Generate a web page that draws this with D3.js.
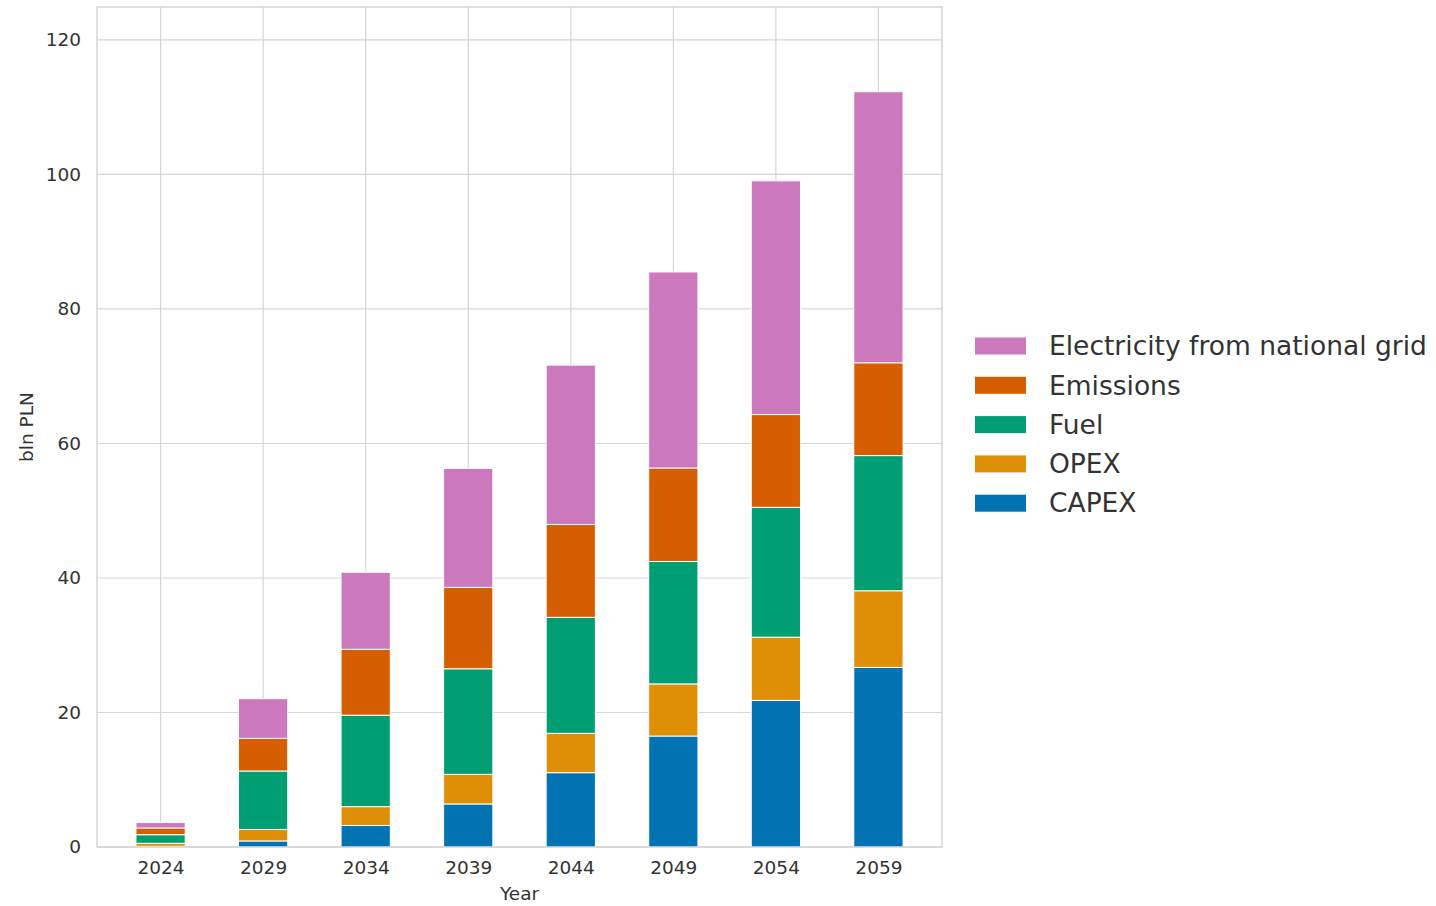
<!DOCTYPE html>
<html>
<head>
<meta charset="utf-8">
<script src="https://cdn.jsdelivr.net/npm/d3@7"></script>
<style>
  html, body { margin: 0; padding: 0; background: #fff; }
  svg { display: block; font-family: "DejaVu Sans", sans-serif; }
</style>
</head>
<body>
<svg id="chart" width="1436" height="906"></svg>
<script>
// ---- data ----
const years = ["2024", "2029", "2034", "2039", "2044", "2049", "2054", "2059"];
const capex = [0.1, 0.9, 3.2, 6.4, 11.05, 16.5, 21.8, 26.7];
const opex = [0.45, 1.7, 2.8, 4.4, 5.85, 7.75, 9.4, 11.4];
const fuel = [1.28, 8.7, 13.6, 15.7, 17.25, 18.2, 19.3, 20.1];
const emissions = [1.0, 4.85, 9.8, 12.1, 13.8, 13.9, 13.8, 13.8];
const electricity = [0.8, 5.9, 11.45, 17.7, 23.7, 29.15, 34.75, 40.3];
const seriesNames = ["CAPEX", "OPEX", "Fuel", "Emissions", "Electricity from national grid"];
const yTicks = [0, 20, 40, 60, 80, 100, 120];

(function () {
const seriesValues = [capex, opex, fuel, emissions, electricity];
const colors = ["#0173b2", "#de8f05", "#029e73", "#d55e00", "#cc78bc"];

const svg = d3.select("#chart");
const pL = 97, pR = 942, pT = 7, pB = 847;
const fs = 18.5;

const x = d3.scaleLinear().domain([-0.62, years.length - 1 + 0.62]).range([pL, pR]);
const y = d3.scaleLinear().domain([0, 124.9]).range([pB, pT]);
const barW = (x(1) - x(0)) * 0.48;

// gridlines
const grid = svg.append("g");
grid.selectAll("line.h").data(yTicks).join("line").attr("class", "h")
  .attr("x1", pL).attr("x2", pR)
  .attr("y1", d => y(d)).attr("y2", d => y(d))
  .attr("stroke", "#d6d6d6").attr("stroke-width", 1.2);
grid.selectAll("line.v").data(years).join("line").attr("class", "v")
  .attr("x1", (d, i) => x(i)).attr("x2", (d, i) => x(i))
  .attr("y1", pT).attr("y2", pB)
  .attr("stroke", "#d6d6d6").attr("stroke-width", 1.2);

// stacked data
const rows = years.map((yr, i) => {
  const r = { year: yr, idx: i };
  seriesNames.forEach((s, k) => r[s] = seriesValues[k][i]);
  return r;
});
const stack = d3.stack().keys(seriesNames)(rows);

svg.append("g").selectAll("g").data(stack).join("g")
  .attr("fill", (d, k) => colors[k])
  .selectAll("rect").data(d => d).join("rect")
  .attr("x", d => x(d.data.idx) - barW / 2)
  .attr("width", barW)
  .attr("y", d => y(d[1]))
  .attr("height", d => y(d[0]) - y(d[1]))
  .attr("stroke", "#ffffff").attr("stroke-width", 1);

// spines
svg.append("rect").attr("x", pL).attr("y", pT)
  .attr("width", pR - pL).attr("height", pB - pT)
  .attr("fill", "none").attr("stroke", "#cccccc").attr("stroke-width", 1.2);

// axes (no tick marks)
const yAxis = d3.axisLeft(y).tickValues(yTicks).tickSize(0).tickPadding(16);
const gy = svg.append("g").attr("transform", `translate(${pL},0)`).call(yAxis);
gy.select(".domain").remove();
gy.selectAll("text").attr("font-size", fs).attr("fill", "#333333")
  .attr("font-family", "DejaVu Sans, sans-serif");

const xAxis = d3.axisBottom(x).tickValues(d3.range(years.length))
  .tickFormat(i => years[i]).tickSize(0).tickPadding(14);
const gx = svg.append("g").attr("transform", `translate(0,${pB})`).call(xAxis);
gx.select(".domain").remove();
gx.selectAll("text").attr("font-size", fs).attr("fill", "#333333")
  .attr("font-family", "DejaVu Sans, sans-serif");

// axis labels
svg.append("text").attr("x", (pL + pR) / 2).attr("y", 900)
  .attr("text-anchor", "middle").attr("font-size", fs).attr("fill", "#333333")
  .text("Year");
svg.append("text").attr("transform", `translate(33,${(pT + pB) / 2}) rotate(-90)`)
  .attr("text-anchor", "middle").attr("font-size", fs).attr("fill", "#333333")
  .text("bln PLN");

// legend (reverse order, like the reference)
const legendOrder = seriesNames.map((s, k) => k).reverse();
const lg = svg.append("g");
legendOrder.forEach((k, j) => {
  const cy = 346 + j * 39.3;
  lg.append("rect").attr("x", 975).attr("y", cy - 8.5).attr("width", 51).attr("height", 17)
    .attr("fill", colors[k]);
  lg.append("text").attr("x", 1049).attr("y", cy).attr("dy", "0.35em")
    .attr("font-size", 26.5).attr("fill", "#333333").text(seriesNames[k]);
});
})();
</script>
</body>
</html>
